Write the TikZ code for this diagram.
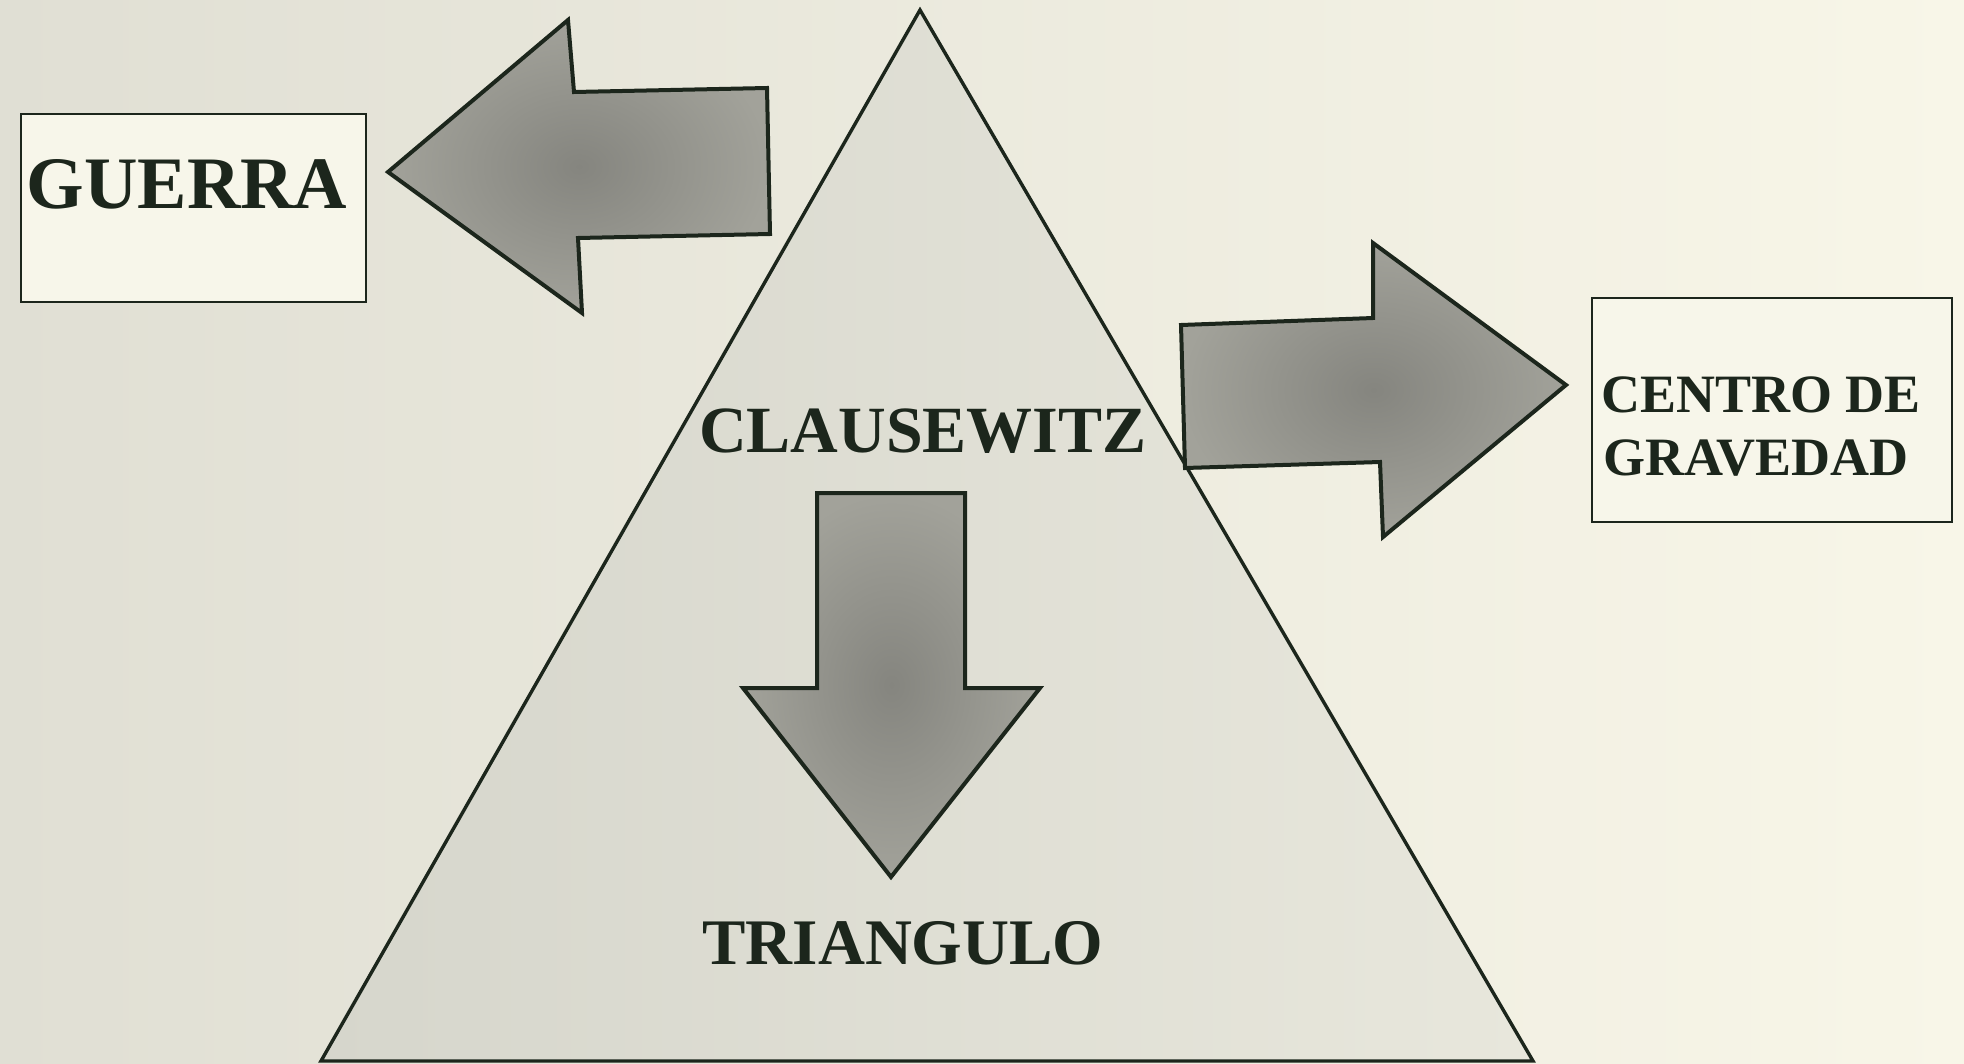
\documentclass[tikz,border=0pt]{standalone}
\usepackage{fontspec}
\setmainfont{Liberation Serif}
\definecolor{bgL}{HTML}{E0DFD4}
\definecolor{bgR}{HTML}{F8F6E8}
\definecolor{triL}{HTML}{D6D6CC}
\definecolor{triR}{HTML}{E8E7DC}
\definecolor{arrIn}{HTML}{85857F}
\definecolor{arrOut}{HTML}{A2A29A}
\definecolor{ink}{HTML}{1C261C}
\definecolor{boxfill}{HTML}{F7F6EA}
\begin{document}
\begin{tikzpicture}[x=1pt,y=-1pt,
  tri/.style={draw=ink, line width=3.4pt, left color=triL, right color=triR, line join=miter},
  blockarrow/.style={draw=ink, line width=4pt, inner color=arrIn, outer color=arrOut, line join=miter},
  labelbox/.style={draw=ink, line width=2.8pt, fill=boxfill, inner sep=0pt, rectangle},
  bigtext/.style={text=ink, inner sep=0pt, font=\bfseries}
]
\useasboundingbox (0,0) rectangle (1964,1063);
\shade[left color=bgL, right color=bgR] (0,0) rectangle (1964,1063);

% triangle
\shadedraw[tri] (920,10) -- (1533,1061) -- (321,1061) -- cycle;

% boxes
\node[labelbox, minimum width=345pt, minimum height=188pt] (guerrabox) at (193.5,208) {};
\node[labelbox, minimum width=360pt, minimum height=224pt] (centrobox) at (1772,410) {};

% block arrows
\shadedraw[blockarrow] (388,172) -- (568,20) -- (574,92) -- (767,88) -- (770,234) -- (578,238) -- (582,313) -- cycle;
\shadedraw[blockarrow] (1181,325) -- (1373,318) -- (1373,243) -- (1566,385) -- (1383,537) -- (1380,462) -- (1185,468) -- cycle;
\shadedraw[blockarrow] (817,493) -- (965,493) -- (965,688) -- (1040,688) -- (891,877) -- (743,688) -- (817,688) -- cycle;

% texts
\node[bigtext, anchor=base] (guerra) at (187,208) {\fontsize{74}{80}\selectfont GUERRA};
\node[bigtext, anchor=base] (clausewitz) at (923,452) {\fontsize{66}{72}\selectfont CLAUSEWITZ};
\node[bigtext, anchor=base] (triangulo) at (903,964) {\fontsize{65}{70}\selectfont TRIANGULO};
\node[bigtext, anchor=base west] (centro) at (1601,412) {\fontsize{54}{60}\selectfont CENTRO DE};
\node[bigtext, anchor=base west] (gravedad) at (1603,475) {\fontsize{54}{60}\selectfont GRAVEDAD};
\end{tikzpicture}
\end{document}
